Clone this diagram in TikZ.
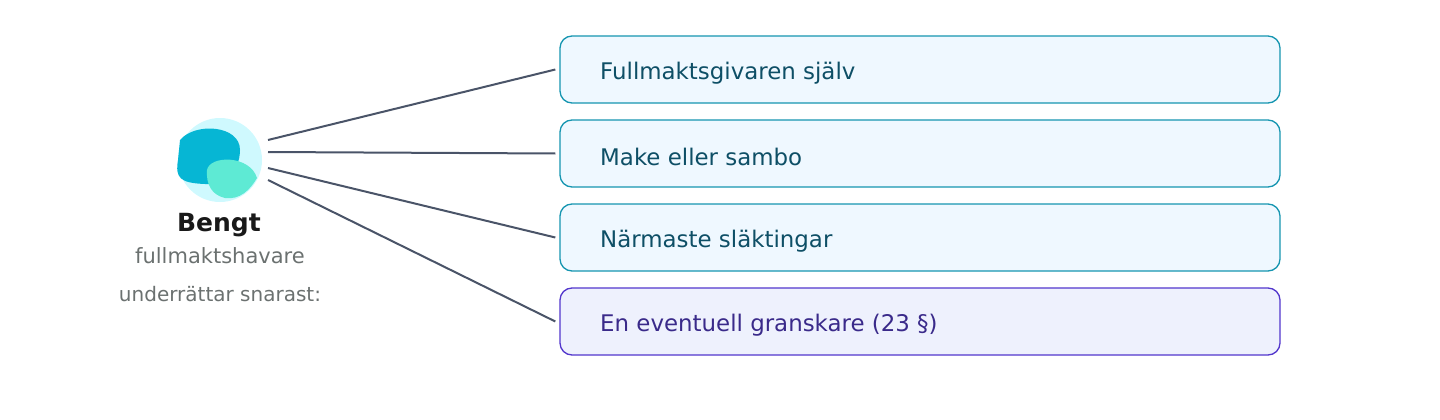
\documentclass[tikz,border=0pt]{standalone}
\usepackage{fontspec}
\setmainfont{DejaVu Sans}
\definecolor{bfill}{HTML}{EFF8FF}
\definecolor{bdraw}{HTML}{1595B0}
\definecolor{btext}{HTML}{0E4F66}
\definecolor{pfill}{HTML}{EEF1FD}
\definecolor{pdraw}{HTML}{5236CC}
\definecolor{ptext}{HTML}{3A2A8A}
\definecolor{conn}{HTML}{4A5468}
\definecolor{grey}{HTML}{6B7170}
\definecolor{ring}{HTML}{CFF9FE}
\definecolor{blobA}{HTML}{06B6D4}
\definecolor{blobB}{HTML}{5EEAD4}
\begin{document}
\begin{tikzpicture}[x=1pt,y=-1pt,
 box/.style={draw=bdraw,fill=bfill,line width=1.3pt,rounded corners=12pt,minimum width=720pt,minimum height=67pt,inner sep=0pt},
 lbl/.style={anchor=west,inner sep=0pt,font=\fontsize{22.9}{26}\selectfont,text=btext},
 con/.style={draw=conn,line width=2pt}]
\useasboundingbox (0,0) rectangle (1440,420);
\node[box] (b1) at (920,69.5) {};
\node[box] (b2) at (920,153.5) {};
\node[box] (b3) at (920,237.5) {};
\node[box,draw=pdraw,fill=pfill] (b4) at (920,321.5) {};
\node[lbl] at (600,73) {Fullmaktsgivaren själv};
\node[lbl] at (600,157) {Make eller sambo};
\node[lbl] at (600,241) {Närmaste släktingar};
\node[lbl,text=ptext] at (600,325) {En eventuell granskare (23 §)};
\fill[ring] (220,160) circle (42);
\fill[blobA] (180,140) .. controls (195,122) and (240,125) .. (240,150) .. controls (240,170) and (225,185) .. (205,184) .. controls (180,183) and (175,178) .. (178,160) -- cycle;
\fill[blobB] (207,170) .. controls (210,155) and (250,155) .. (257,178) .. controls (250,190) and (240,200) .. (225,198) .. controls (212,195) and (206,185) .. (207,170) -- cycle;
\coordinate (s1) at (268,140); \coordinate (s2) at (268,152);
\coordinate (s3) at (268,168); \coordinate (s4) at (268,180);
\draw[con] (s1) -- ([xshift=-4pt]b1.west);
\draw[con] (s2) -- ([xshift=-4pt]b2.west);
\draw[con] (s3) -- ([xshift=-4pt]b3.west);
\draw[con] (s4) -- ([xshift=-4pt]b4.west);
\node[font=\bfseries\fontsize{25}{28}\selectfont,text=black!90] at (219,225) {Bengt};
\node[font=\fontsize{21}{24}\selectfont,text=grey] at (220,256) {fullmaktshavare};
\node[font=\fontsize{20}{23}\selectfont,text=grey] at (220,294) {underrättar snarast:};
\end{tikzpicture}
\end{document}
